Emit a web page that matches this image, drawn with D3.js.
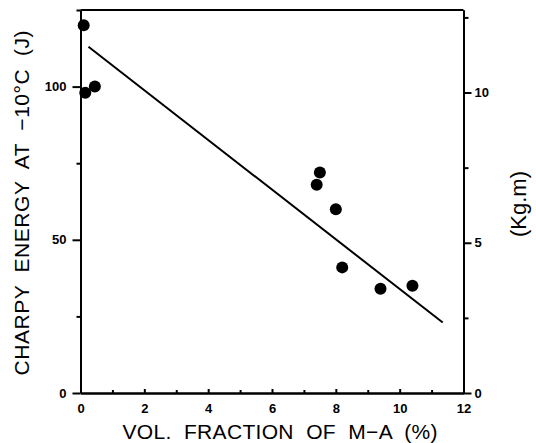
<!DOCTYPE html>
<html>
<head>
<meta charset="utf-8">
<script src="https://cdn.jsdelivr.net/npm/d3@7"></script>
<style>
  body { margin: 0; background: #fff; }
  svg { display: block; }
  .axis path, .axis line { stroke: #000; stroke-width: 2; }
  .axis text { font-family: "Liberation Sans", Arial, sans-serif; font-weight: bold; font-size: 13px; fill: #000; }
  .label { font-family: "Liberation Sans", Arial, sans-serif; fill: #000; white-space: pre; }
</style>
</head>
<body>
<div id="chart"></div>
<script>
// measured points: vol. fraction of M-A (%) vs Charpy energy (J)
const volFraction = [0.1, 0.15, 0.45, 7.4, 7.5, 8.0, 8.2, 9.4, 10.4];
const charpyJ = [120, 98, 100, 68, 72, 60, 41, 34, 35];

// fitted line end points
const fitX = [0.25, 11.35];
const fitY = [113, 23];

const xTicks = [0, 2, 4, 6, 8, 10, 12];
const xMinor = [1, 3, 5, 7, 9, 11];
const yTicks = [0, 50, 100];
const yMinor = [25, 75, 125];
const kgTicks = [0, 5, 10];
const kgMinor = [2.5, 7.5, 12.5];
const J_PER_KGM = 9.80665;

const W = 536, H = 443;
const margin = { top: 10, right: 72.5, bottom: 50, left: 80.5 };
const width = W - margin.left - margin.right;
const height = H - margin.top - margin.bottom;

const svg = d3.select('#chart').append('svg')
  .attr('width', W)
  .attr('height', H);

const g = svg.append('g')
  .attr('transform', `translate(${margin.left},${margin.top})`);

const x = d3.scaleLinear().domain([0, 12]).range([0, width]);
const y = d3.scaleLinear().domain([0, 125]).range([height, 0]);
const yKg = d3.scaleLinear().domain([0, 125 / J_PER_KGM]).range([height, 0]);

// top frame line
g.append('line')
  .attr('x1', x(0)).attr('x2', x(12))
  .attr('y1', y(125)).attr('y2', y(125))
  .attr('stroke', '#000').attr('stroke-width', 2);

// bottom axis, ticks pointing inward
g.append('g')
  .attr('class', 'axis')
  .attr('transform', `translate(0,${height})`)
  .call(d3.axisBottom(x).tickValues(xTicks).tickSize(-4).tickSizeOuter(0).tickPadding(11).tickFormat(d3.format('d')));
g.append('g')
  .attr('class', 'axis')
  .attr('transform', `translate(0,${height})`)
  .call(d3.axisBottom(x).tickValues(xMinor).tickSize(-3).tickSizeOuter(0).tickFormat(''));

// left axis
g.append('g')
  .attr('class', 'axis')
  .call(d3.axisLeft(y).tickValues(yTicks).tickSize(8).tickSizeOuter(0).tickPadding(6));
g.append('g')
  .attr('class', 'axis')
  .call(d3.axisLeft(y).tickValues(yMinor).tickSize(4).tickSizeOuter(0).tickFormat(''));

// right axis in Kg.m
g.append('g')
  .attr('class', 'axis')
  .attr('transform', `translate(${width},0)`)
  .call(d3.axisRight(yKg).tickValues(kgTicks).tickSize(8).tickSizeOuter(0).tickPadding(3));
g.append('g')
  .attr('class', 'axis')
  .attr('transform', `translate(${width},0)`)
  .call(d3.axisRight(yKg).tickValues(kgMinor).tickSize(5).tickSizeOuter(0).tickFormat(''));

// regression line
g.append('line')
  .attr('x1', x(fitX[0])).attr('y1', y(fitY[0]))
  .attr('x2', x(fitX[1])).attr('y2', y(fitY[1]))
  .attr('stroke', '#000').attr('stroke-width', 2);

// data points
g.selectAll('.dot')
  .data(volFraction)
  .enter().append('circle')
  .attr('class', 'dot')
  .attr('cx', d => x(d))
  .attr('cy', (d, i) => y(charpyJ[i]))
  .attr('r', 6)
  .attr('fill', '#000');

// axis titles (the original uses wide, typewriter-like spacing)
svg.append('text')
  .attr('class', 'label')
  .attr('x', 280).attr('y', 439)
  .attr('text-anchor', 'middle')
  .attr('textLength', 315)
  .attr('lengthAdjust', 'spacing')
  .style('font-size', '21px')
  .text('VOL.  FRACTION  OF  M\u2212A  (%)');

svg.append('text')
  .attr('class', 'label')
  .attr('transform', 'translate(29,203) rotate(-90)')
  .attr('text-anchor', 'middle')
  .attr('textLength', 345)
  .attr('lengthAdjust', 'spacing')
  .style('font-size', '21px')
  .text('CHARPY  ENERGY  AT  \u221210\u00b0C  (J)');

svg.append('text')
  .attr('class', 'label')
  .attr('transform', 'translate(526,204) rotate(-90)')
  .attr('text-anchor', 'middle')
  .style('font-size', '22px')
  .text('(Kg.m)');
</script>
</body>
</html>
